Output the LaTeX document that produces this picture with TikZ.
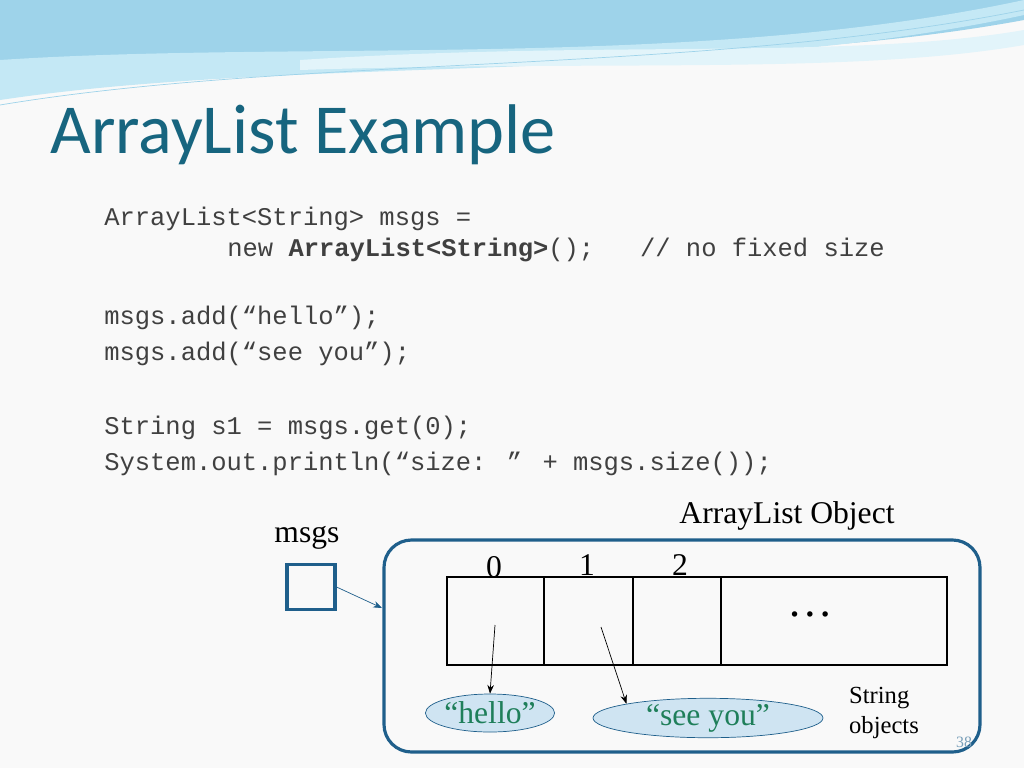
\documentclass[tikz,border=0pt]{standalone}
\usepackage{fontspec}
\setmainfont{Liberation Serif}
\newfontfamily\titlefont{Carlito}
\newfontfamily\codefont{Liberation Mono}
\usetikzlibrary{shapes.geometric,arrows.meta}
\definecolor{teal1}{HTML}{17657F}
\definecolor{boxblue}{HTML}{1F5F8B}
\definecolor{codegray}{HTML}{404040}
\definecolor{ellfill}{HTML}{CFE4F2}
\definecolor{strgreen}{HTML}{1F7F5A}
\definecolor{wave1}{HTML}{9ED3EA}
\definecolor{wave2}{HTML}{C4E8F5}
\definecolor{wave3}{HTML}{E2F4FA}
\tikzset{
 code/.style={anchor=base west,font=\codefont\fontsize{14.5}{16}\selectfont,text=codegray,inner sep=0},
 serif/.style={font=\fontsize{18}{20}\selectfont,inner sep=0},
 strobj/.style={ellipse,draw=boxblue,fill=ellfill,text=strgreen,font=\fontsize{18}{20}\selectfont,inner sep=0},
 ptr/.style={-{Stealth[length=5pt]},thin}
}
\begin{document}
\begin{tikzpicture}[x=0.02cm,y=-0.02cm]
\useasboundingbox (0,0) rectangle (1024,768);
\fill[gray!5] (0,0) rectangle (1024,768);
% top waves
\fill[wave1] (0,0) -- (1024,0) -- (1024,20) .. controls (700,80) and (300,40) .. (0,95) -- cycle;
\fill[wave2] (0,60) .. controls (300,40) and (700,70) .. (1024,0) -- (1024,15) .. controls (700,85) and (300,55) .. (0,100) -- cycle;
\fill[wave3] (300,60) .. controls (600,40) and (850,60) .. (1024,30) -- (1024,45) .. controls (850,75) and (600,60) .. (300,70) -- cycle;
\draw[wave1,thin] (0,105) .. controls (300,55) and (700,75) .. (1024,10);
\node[anchor=base west,inner sep=0,text=teal1,font=\titlefont\fontsize{40}{44}\selectfont] (title) at (50,153) {ArrayList Example};
\node[code] (c1) at (104,225) {ArrayList<String> msgs =};
\node[code] (c2) at (227,256) {new \textbf{ArrayList<String>}();~~~// no fixed size};
\node[code] (c3) at (104,324) {msgs.add(“hello”);};
\node[code] (c4) at (104,360) {msgs.add(“see you”);};
\node[code] (c5) at (104,434) {String s1 = msgs.get(0);};
\node[code] (c6) at (104,470) {System.out.println(“size: ” + msgs.size());};
\node[serif] (ml) at (307,538) {msgs};
\node[draw=boxblue,line width=1.8pt,minimum width=0.96cm,minimum height=0.9cm] (mb) at (311,587) {};
\draw[boxblue,line width=1.8pt,rounded corners=0.55cm] (384,540) rectangle (980,752);
\node[serif] (ao) at (787,516) {ArrayList Object};
\node[serif] (i0) at (494,567) {0};
\node[serif] (i1) at (587,565) {1};
\node[serif] (i2) at (680,565) {2};
\draw[thick] (447,577) rectangle (947,665);
\foreach \x in {544,633,721} \draw[thick] (\x,577) -- (\x,665);
\node[font=\fontsize{26}{28}\selectfont,inner sep=0] (dots) at (810,614) {\dots};
\coordinate (c0) at (495,625);
\coordinate (c1p) at (601,627);
\coordinate (ain) at (382,608);
\node[strobj,minimum width=2.36cm,minimum height=0.76cm] (hello) at (490,713) {“hello”};
\node[strobj,minimum width=4.6cm,minimum height=0.76cm] (see) at (708,718) {“see you”};
\node[align=left,font=\fontsize{14}{17}\selectfont,inner sep=0] (so) at (884,713) {String\\objects};
\node[text=boxblue!60,font=\fontsize{9}{10}\selectfont,inner sep=0] (pg) at (964,742) {38};
\draw[ptr] (c0) -- (hello.north);
\draw[ptr] (c1p) -- (see.north west);
\draw[ptr,boxblue] (mb.east) -- (ain);
\end{tikzpicture}
\end{document}
